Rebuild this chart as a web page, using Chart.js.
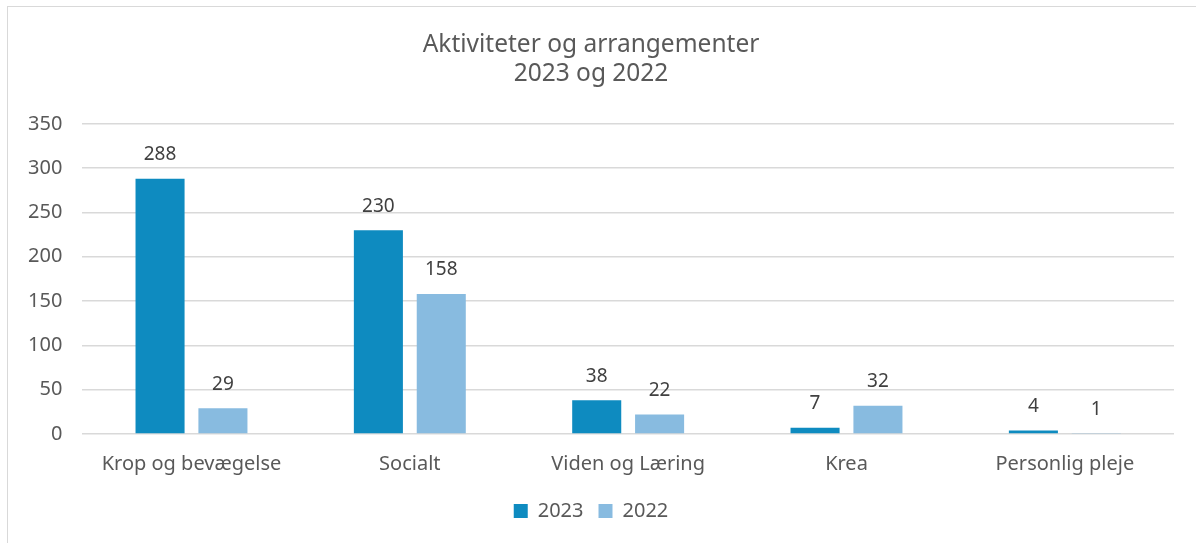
<!DOCTYPE html>
<html>
<head>
<meta charset="utf-8">
<script src="https://cdn.jsdelivr.net/npm/chart.js@4"></script>
<style>
  html, body { margin: 0; padding: 0; background: #fff; }
  #wrap { width: 1196px; height: 543px; }
</style>
</head>
<body>
<div id="wrap"><canvas id="myChart" width="1196" height="543"></canvas></div>
<script>
const categories = ["Krop og bevægelse", "Socialt", "Viden og Læring", "Krea", "Personlig pleje"];
const values2023 = [288, 230, 38, 7, 4];
const values2022 = [29, 158, 22, 32, 1];
const yTicks = [0, 50, 100, 150, 200, 250, 300, 350];

const textColor = "#595959";
const gridColor = "#d9d9d9";
const fontFamily = "'Noto Sans', 'Open Sans', sans-serif";

// frame around the whole chart
const frame = {
  id: "frame",
  beforeDraw(chart) {
    const ctx = chart.ctx;
    ctx.save();
    ctx.strokeStyle = gridColor;
    ctx.lineWidth = 1;
    ctx.strokeRect(7.5, 6.5, 1200, 600);
    ctx.restore();
  }
};

// value labels above the bars
const valueLabels = {
  id: "valueLabels",
  afterDatasetsDraw(chart) {
    const ctx = chart.ctx;
    ctx.save();
    ctx.font = "19px " + fontFamily;
    ctx.fillStyle = "#404040";
    ctx.textAlign = "center";
    ctx.textBaseline = "middle";
    chart.data.datasets.forEach((ds, i) => {
      chart.getDatasetMeta(i).data.forEach((bar, j) => {
        ctx.fillText(ds.data[j], bar.x, bar.y - 24);
      });
    });
    ctx.restore();
  }
};

new Chart(document.getElementById("myChart"), {
  type: "bar",
  data: {
    labels: categories,
    datasets: [
      { label: "2023", data: values2023, backgroundColor: "#0e8bc0", categoryPercentage: 0.576, barPercentage: 0.78 },
      { label: "2022", data: values2022, backgroundColor: "#88bbe0", categoryPercentage: 0.576, barPercentage: 0.78 }
    ]
  },
  options: {
    responsive: false,
    animation: false,
    layout: { padding: { left: 8, right: 22, top: 30, bottom: 12 } },
    scales: {
      x: {
        grid: { display: false },
        border: { display: false },
        ticks: { color: textColor, font: { size: 20, family: fontFamily }, padding: 10 }
      },
      y: {
        min: 0,
        max: 350,
        afterBuildTicks(axis) { axis.ticks = yTicks.map(v => ({ value: v })); },
        grid: { color: gridColor, lineWidth: 1.5, drawTicks: false },
        border: { display: false },
        ticks: { color: textColor, font: { size: 20, family: fontFamily }, padding: 20 }
      }
    },
    plugins: {
      title: {
        display: true,
        text: ["Aktiviteter og arrangementer", "2023 og 2022"],
        color: textColor,
        font: { size: 24.5, weight: "normal", family: fontFamily },
        lineHeight: 1.4,
        padding: { top: 0, bottom: 35 }
      },
      legend: {
        position: "bottom",
        labels: {
          color: textColor,
          font: { size: 20, family: fontFamily },
          boxWidth: 14,
          boxHeight: 14,
          padding: 15
        }
      },
      tooltip: { enabled: false }
    }
  },
  plugins: [frame, valueLabels]
});
</script>
</body>
</html>
